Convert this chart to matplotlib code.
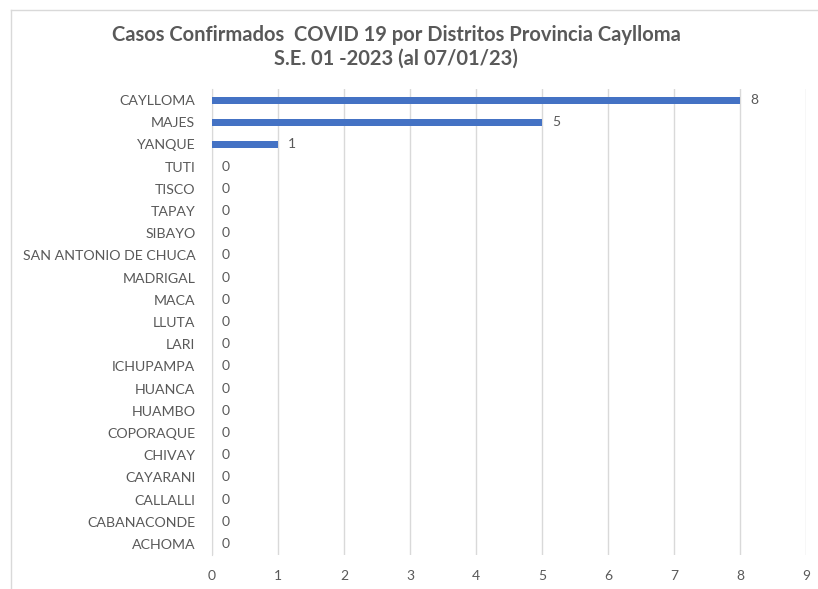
import matplotlib.pyplot as plt
from matplotlib.lines import Line2D

# data, top to bottom as in the chart
distritos = ['CAYLLOMA', 'MAJES', 'YANQUE', 'TUTI', 'TISCO', 'TAPAY', 'SIBAYO',
             'SAN ANTONIO DE CHUCA', 'MADRIGAL', 'MACA', 'LLUTA', 'LARI',
             'ICHUPAMPA', 'HUANCA', 'HUAMBO', 'COPORAQUE', 'CHIVAY', 'CAYARANI',
             'CALLALLI', 'CABANACONDE', 'ACHOMA']
casos = [8, 5, 1, 0, 0, 0, 0, 0, 0, 0, 0, 0, 0, 0, 0, 0, 0, 0, 0, 0, 0]
xticks = list(range(0, 10))

plt.rcParams['font.family'] = ['Lato', 'DejaVu Sans']
gris = '#595959'

fig = plt.figure(figsize=(8.18, 5.89), dpi=100)
ax = fig.add_axes([212/818, 1 - 555/589, 594/818, 466/589])

pos = list(range(len(distritos)))
ax.barh(pos, casos, height=0.32, color='#4472C4', zorder=3)
for p, v in zip(pos, casos):
    ax.text(v + 0.15, p, str(v), va='center', ha='left', fontsize=10, color=gris)

ax.set_xlim(0, 9)
ax.set_ylim(len(distritos) - 0.5, -0.5)
ax.set_xticks(xticks)
ax.set_yticks(pos)
ax.set_yticklabels(distritos, fontsize=10.2, color=gris)
ax.tick_params(axis='x', labelsize=10, colors=gris, length=0, pad=11)
ax.tick_params(axis='y', length=0, pad=12)
ax.grid(axis='x', color='#d9d9d9', linewidth=1, zorder=0)
for s in ['top', 'right', 'bottom']:
    ax.spines[s].set_visible(False)
ax.spines['left'].set_color('#d9d9d9')

fig.text(396/818, 1 - 35/589, 'Casos Confirmados  COVID 19 por Distritos Provincia Caylloma',
         ha='center', va='center', fontsize=14.5, fontweight='bold', color=gris)
fig.text(396/818, 1 - 59/589, 'S.E. 01 -2023 (al 07/01/23)',
         ha='center', va='center', fontsize=14.5, fontweight='bold', color=gris)

# chart area border (left and top only visible)
fig.add_artist(Line2D([11/818, 11/818], [0, 1 - 10/589], color='#d9d9d9', lw=1))
fig.add_artist(Line2D([11/818, 1], [1 - 10/589, 1 - 10/589], color='#d9d9d9', lw=1))

fig.savefig('out.png', dpi=100)
